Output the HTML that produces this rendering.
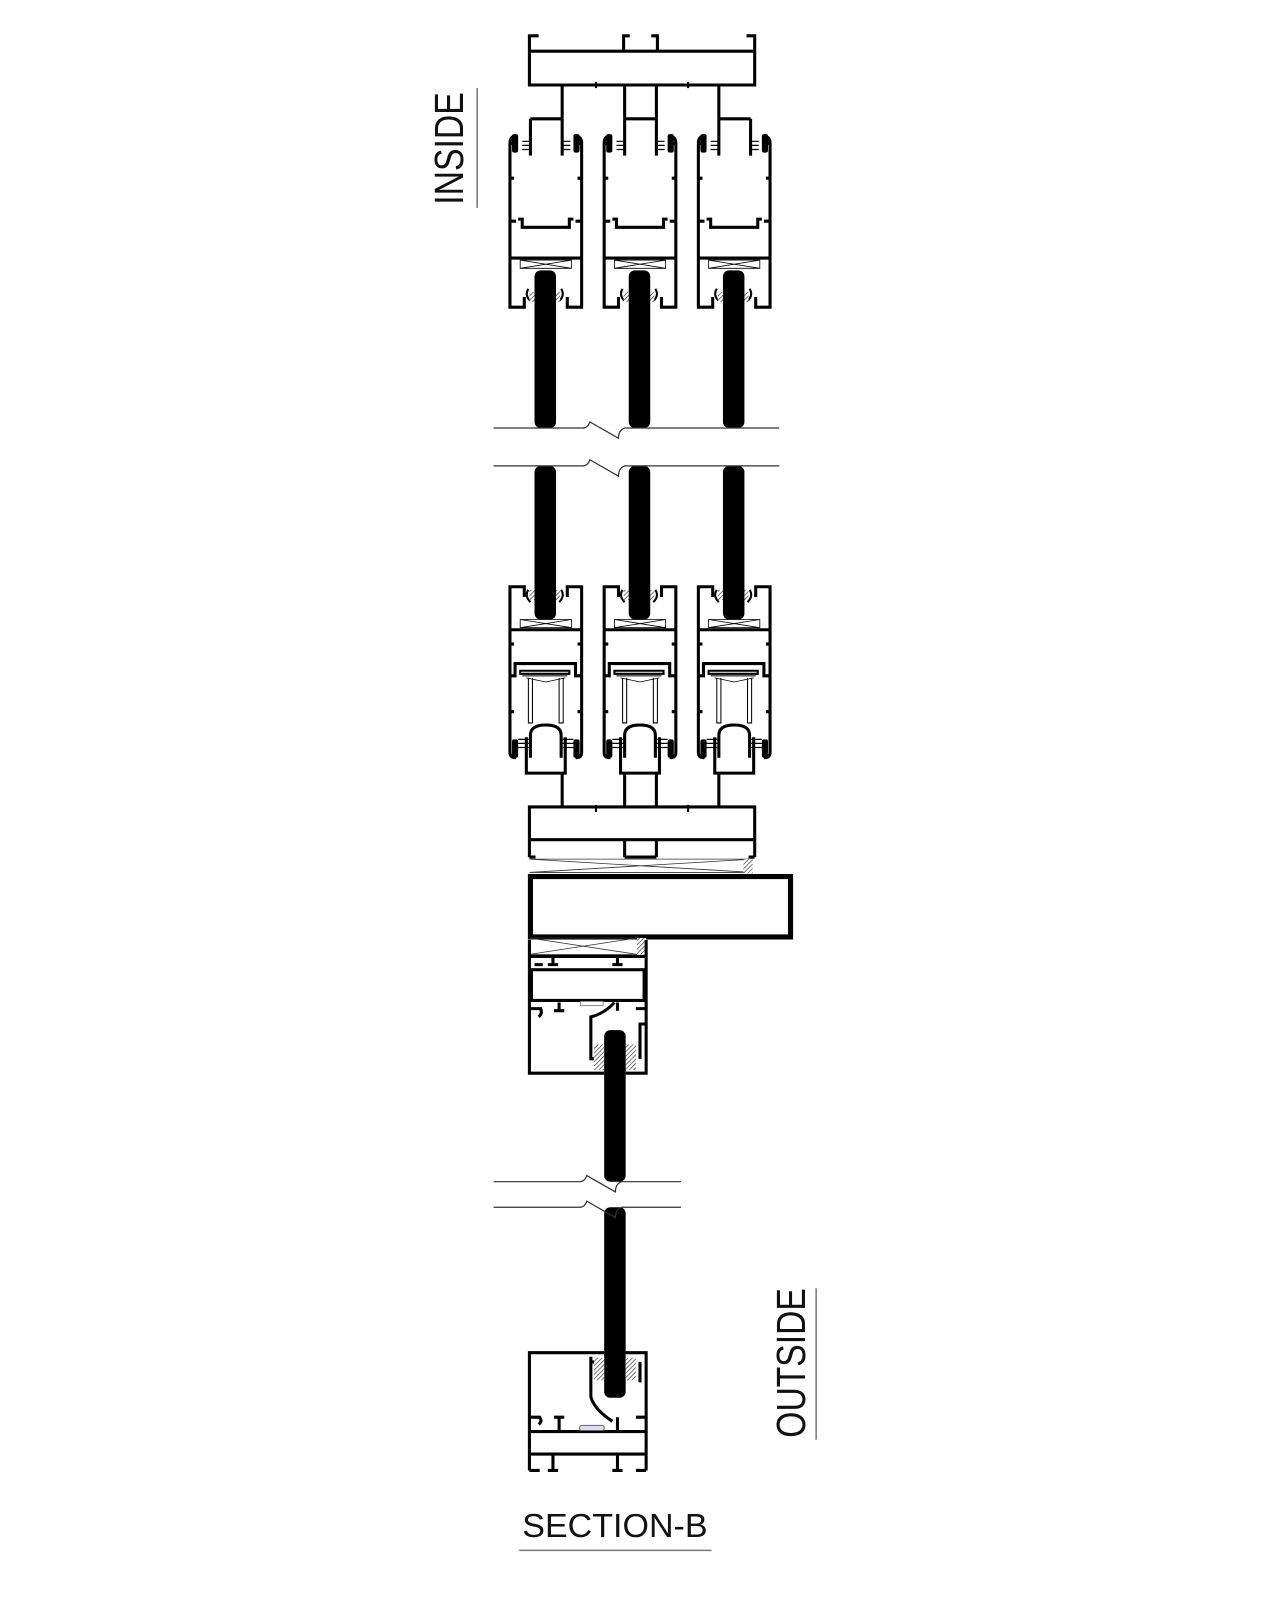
<!DOCTYPE html>
<html><head><meta charset="utf-8"><style>
html,body{margin:0;padding:0;background:#fff;}
svg{display:block;}
text{font-family:"Liberation Sans",sans-serif;fill:#111;}
</style></head><body>
<svg width="1280" height="1600" viewBox="0 0 1250 1562.5" xmlns="http://www.w3.org/2000/svg">
<defs>
<pattern id="hat" width="3" height="3" patternUnits="userSpaceOnUse" patternTransform="rotate(45)">
<rect width="3" height="3" fill="#fff"/><line x1="0" y1="0" x2="0" y2="3" stroke="#444" stroke-width="1.4"/></pattern>
<g id="topunit" fill="none" stroke="#000" stroke-width="3">
  <!-- outer walls -->
  <path d="M8 133 Q2 133 2 140 L2 168 L2 300 L16 300 L16 290"/>
  <path d="M65 133 Q72 133 72 140 L72 300 L58 300 L58 290"/>
  <path d="M2 140 L8 140 M72 140 L66 140"/>
  <rect x="4" y="131" width="6" height="18" fill="#000" stroke="none" rx="2"/>
  <rect x="64" y="131" width="6" height="18" fill="#000" stroke="none" rx="2"/>
  <path d="M2 174 L6 174 M72 174 L68 174"/>
  <!-- channel -->
  <path d="M10 214 L14 214 L14 222 L60 222 L60 214 L64 214" stroke-width="3"/>
  <path d="M2 216 L8 216 M72 216 L66 216"/>
  <line x1="2" y1="252" x2="72" y2="252"/>
  <!-- inner stems with combs -->
  <path d="M22 116 L53 116 M22 116 L22 152 M53 116 L53 152"/>
  <path d="M14 138 L22 138 M14 142 L22 142 M14 146 L22 146 M53 138 L61 138 M53 142 L61 142 M53 146 L61 146" stroke-width="1.2"/>
  <!-- gasket X -->
  <path d="M12 254 L62 254 L62 262 L12 262 Z M12 254 L62 262 M12 262 L62 254" stroke-width="0.8"/>
  <!-- glass seal -->
  <path d="M20 282 Q16 288 22 294 M52 282 Q56 288 50 294" stroke-width="2"/>
  <rect x="21" y="285" width="6" height="10" fill="url(#hat)" stroke="none"/>
  <rect x="45" y="285" width="6" height="10" fill="url(#hat)" stroke="none"/>
</g>
<g id="botunit" fill="none" stroke="#000" stroke-width="3">
  <path d="M16 583 L16 573 L2 573 L2 735 Q2 740 8 740"/>
  <path d="M58 583 L58 573 L72 573 L72 735 Q72 740 66 740"/>
  <rect x="4" y="722" width="6" height="18" fill="#000" stroke="none" rx="2"/>
  <rect x="64" y="722" width="6" height="18" fill="#000" stroke="none" rx="2"/>
  <path d="M20 576 Q16 582 22 588 M52 576 Q56 582 50 588" stroke-width="2"/>
  <rect x="21" y="576" width="6" height="10" fill="url(#hat)" stroke="none"/>
  <rect x="45" y="576" width="6" height="10" fill="url(#hat)" stroke="none"/>
  <path d="M12 605 L62 605 L62 613 L12 613 Z M12 605 L62 613 M12 613 L62 605" stroke-width="0.8"/>
  <line x1="2" y1="615" x2="72" y2="615"/>
  <path d="M2 629 L6 629 M72 629 L68 629 M2 695 L6 695 M72 695 L68 695"/>
  <!-- tray -->
  <path d="M2 660 L7 660 L7 648 L66 648 L66 660 L72 660"/>
  <path d="M12 655 L12 658 L60 658 L60 655 Z" stroke-width="2"/>
  <path d="M14 660 L58 660" stroke-width="1"/>
  <path d="M18 662 L37 666 L56 662" stroke-width="0.8"/>
  <path d="M20 662 L20 706 L24 706 L24 662 M50 662 L50 706 L54 706 L54 662" stroke-width="1"/>
  <!-- cup -->
  <path d="M22 740 L22 718 Q22 708 37 708 Q52 708 52 718 L52 740"/>
  <path d="M18 720 L18 755 L56 755 L56 720" />
  <path d="M10 722 L22 722 M10 726 L22 726 M10 730 L22 730 M52 722 L64 722 M52 726 L64 726 M52 730 L64 730" stroke-width="1.2"/>
</g>
</defs>

<!-- top header -->
<g fill="none" stroke="#000" stroke-width="3">
  <path d="M526 35 L517 35 L517 83 L549 83 M517 50 L737 50 M737 35 L729 35 L737 35 L737 83 L702 83"/>
  <path d="M549 83 L702 83"/>
  <path d="M615 35 L609 35 L609 50 M636 35 L642 35 L642 50"/>
  <path d="M549 83 L549 116 M610 83 L610 116 M641 83 L641 116 M702 83 L702 116"/>
  <path d="M582 80 L582 86 M672 80 L672 86" stroke-width="2"/>
</g>
<use href="#topunit" transform="translate(496 0)"/>
<use href="#topunit" transform="translate(588 0)"/>
<use href="#topunit" transform="translate(680 0)"/>
<use href="#botunit" transform="translate(496 0)"/>
<use href="#botunit" transform="translate(588 0)"/>
<use href="#botunit" transform="translate(680 0)"/>

<!-- glass bars top units -->
<g fill="#000">
  <rect x="522" y="264" width="21" height="154" rx="6"/>
  <rect x="614" y="264" width="21" height="154" rx="6"/>
  <rect x="706" y="264" width="21" height="154" rx="6"/>
  <rect x="522" y="455" width="21" height="150" rx="6"/>
  <rect x="614" y="455" width="21" height="150" rx="6"/>
  <rect x="706" y="455" width="21" height="150" rx="6"/>
</g>
<!-- break lines -->
<g fill="none" stroke="#333" stroke-width="1.2">
  <path d="M482 418 L569 418 Q574 418 576 412 L604 428 Q604 420 610 418 L761 418"/>
  <path d="M482 455 L569 455 Q574 455 576 449 L604 465 Q604 457 610 455 L761 455"/>
</g>

<!-- header 2 -->
<g fill="none" stroke="#000" stroke-width="3">
  <path d="M549 755 L549 788 M610 755 L610 788 M641 755 L641 788 M702 755 L702 788"/>
  <path d="M517 837 L517 788 L737 788 L737 837"/>
  <path d="M517 820 L737 820"/>
  <path d="M517 837 L523 837 M731 837 L737 837 M610 820 L610 837 M641 820 L641 837 M610 837 L641 837" />
  <path d="M582 786 L582 793 M672 786 L672 793" stroke-width="2"/>
</g>
<path d="M517 839 L735 839 M517 852 L735 852 M517 839 L735 852 M517 852 L735 839" stroke="#333" stroke-width="0.8" fill="none"/>
<rect x="726" y="839" width="9" height="14" fill="url(#hat)"/>
<!-- big rectangle -->
<rect x="518" y="856" width="254" height="59" fill="#fff" stroke="#000" stroke-width="5"/>

<!-- lower fixed frame -->
<path d="M517 916 L622 916 M517 932 L622 932 M517 916 L622 932 M517 932 L622 916" stroke="#333" stroke-width="0.8" fill="none"/>
<rect x="622" y="916" width="9" height="16" fill="url(#hat)"/>
<g fill="none" stroke="#000" stroke-width="3">
  <path d="M517 918 L517 1048 L590 1048 M611 1048 L631 1048 L631 918"/>
  <path d="M517 934 L631 934"/>
  <rect x="519" y="947" width="110" height="30"/>
  <path d="M540 934 L540 942 M535 942 L545 942 M603 934 L603 942 M598 942 L608 942 M522 942 L530 942"/>
  <path d="M517 985 L528 985 Q530 990 526 993 M546 979 L546 987 M541 987 L551 987 M621 985 L631 985 M603 979 L603 987"/>
  <path d="M600 979 Q590 990 577 993 L577 1034 L586 1034 M631 1000 L625 1000 L625 1034"/>
</g>
<rect x="567" y="978" width="22" height="4" fill="#fff" stroke="#888" stroke-width="1"/>
<rect x="580" y="1020" width="10" height="25" fill="url(#hat)"/>
<rect x="611" y="1020" width="10" height="25" fill="url(#hat)"/>
<rect x="590" y="1006" width="21" height="148" rx="6" fill="#000"/>
<rect x="590" y="1179" width="21" height="186" rx="6" fill="#000"/>
<g fill="none" stroke="#333" stroke-width="1.2">
  <path d="M482 1154 L566 1154 Q571 1154 573 1148 L601 1164 Q601 1156 607 1154 L665 1154"/>
  <path d="M482 1179 L566 1179 Q571 1179 573 1173 L601 1189 Q601 1181 607 1179 L665 1179"/>
</g>
<!-- bottom frame -->
<g fill="none" stroke="#000" stroke-width="3">
  <path d="M517 1436 L517 1321 L590 1321 M611 1321 L631 1321 L631 1436"/>
  <path d="M517 1398 L631 1398"/>
  <path d="M517 1420 L631 1420"/>
  <path d="M517 1436 L527 1436 M540 1420 L540 1436 M535 1436 L545 1436 M603 1420 L603 1436 M598 1436 L608 1436 M621 1436 L631 1436"/>
  <path d="M517 1384 L527 1384 Q530 1388 526 1391 M546 1384 L546 1398 M541 1384 L551 1384 M621 1384 L631 1384 M603 1384 L603 1398"/>
  <path d="M577 1325 L577 1364 Q580 1376 598 1388 M586 1330 L577 1330 M625 1330 L625 1350"/>
</g>
<rect x="566" y="1392" width="24" height="5" fill="#dde" stroke="#666" stroke-width="1" rx="2"/>
<rect x="580" y="1326" width="10" height="22" fill="url(#hat)"/>
<rect x="611" y="1326" width="10" height="22" fill="url(#hat)"/>

<!-- labels -->
<text transform="translate(452 200) rotate(-90)" font-size="40" textLength="110" lengthAdjust="spacingAndGlyphs">INSIDE</text>
<line x1="466" y1="86" x2="466" y2="203" stroke="#777" stroke-width="1.5"/>
<text transform="translate(786 1404) rotate(-90)" font-size="40" textLength="146" lengthAdjust="spacingAndGlyphs">OUTSIDE</text>
<line x1="797" y1="1258" x2="797" y2="1406" stroke="#777" stroke-width="1.5"/>
<text x="510" y="1501" font-size="33" textLength="181" lengthAdjust="spacingAndGlyphs">SECTION-B</text>
<line x1="507" y1="1514" x2="695" y2="1514" stroke="#777" stroke-width="1.5"/>
</svg>
</body></html>
